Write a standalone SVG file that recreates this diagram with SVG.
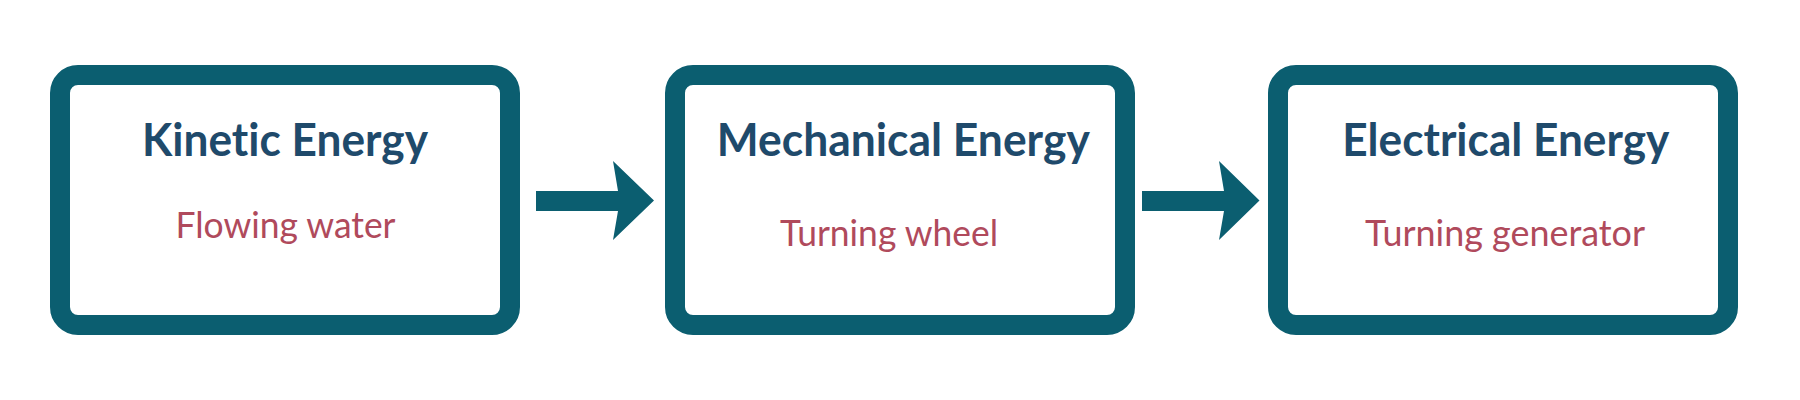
<svg xmlns="http://www.w3.org/2000/svg" width="1800" height="400" viewBox="0 0 1800 400">
  <style>
    .box { fill: #ffffff; stroke: #0b5e70; stroke-width: 20; }
    .title { font-family: Lato, "Liberation Sans", sans-serif; font-weight: 700; font-size: 45px; fill: #1f4a6b; text-anchor: middle; font-variant-ligatures: none; font-feature-settings: "liga" 0, "clig" 0, "dlig" 0; }
    .sub { font-family: Lato, "Liberation Sans", sans-serif; font-weight: 400; font-size: 37px; fill: #b04a5c; text-anchor: middle; font-variant-ligatures: none; font-feature-settings: "liga" 0, "clig" 0, "dlig" 0; }
    .arrow { fill: #0b5e70; }
  </style>
  <rect x="0" y="0" width="1800" height="400" fill="#ffffff"/>
  <g id="connectors">
    <polygon class="arrow" points="536,191 618,191 613,161 654,200.5 613,240 618,211 536,211"/>
    <polygon class="arrow" points="1142,191 1224,191 1219,161 1259.5,200.5 1219,240 1224,211 1142,211"/>
  </g>
  <g id="node-kinetic">
    <rect class="box" x="60" y="75" width="450" height="250" rx="18" ry="18"/>
    <text class="title" x="285" y="156" textLength="286" lengthAdjust="spacingAndGlyphs">Kinetic Energy</text>
    <text class="sub" x="285.5" y="238" textLength="220" lengthAdjust="spacingAndGlyphs">Flowing water</text>
  </g>
  <g id="node-mechanical">
    <rect class="box" x="675" y="75" width="450" height="250" rx="18" ry="18"/>
    <text class="title" x="903.3" y="156" textLength="373" lengthAdjust="spacingAndGlyphs">Mechanical Energy</text>
    <text class="sub" x="889" y="246" textLength="218" lengthAdjust="spacingAndGlyphs">Turning wheel</text>
  </g>
  <g id="node-electrical">
    <rect class="box" x="1278" y="75" width="450" height="250" rx="18" ry="18"/>
    <text class="title" x="1505.8" y="156" textLength="327" lengthAdjust="spacingAndGlyphs">Electrical Energy</text>
    <text class="sub" x="1505" y="245.5" textLength="280" lengthAdjust="spacingAndGlyphs">Turning generator</text>
  </g>
</svg>
